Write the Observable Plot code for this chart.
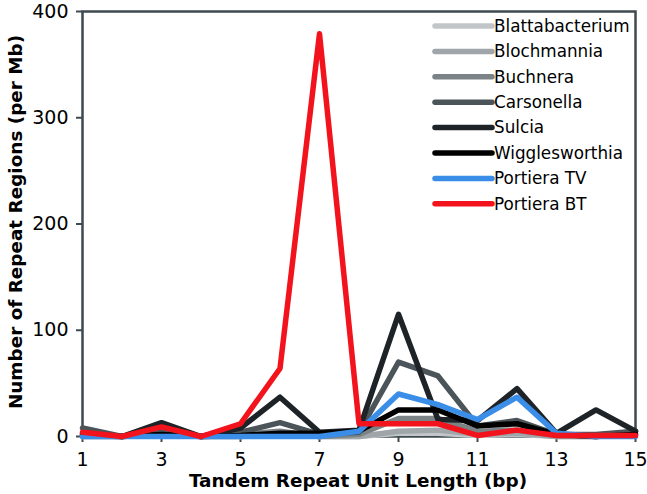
<!DOCTYPE html>
<html><head><meta charset="utf-8">
<script src="https://cdn.jsdelivr.net/npm/d3@7"></script>
<script src="https://cdn.jsdelivr.net/npm/@observablehq/plot@0.6"></script>
<style>body{margin:0;background:#fff}</style>
</head><body><div id="chart"></div>
<script>
const lengths = [1,2,3,4,5,6,7,8,9,10,11,12,13,14,15];
const seriesNames = ["Blattabacterium","Blochmannia","Buchnera","Carsonella","Sulcia","Wigglesworthia","Portiera TV","Portiera BT"];
const Blattabacterium = [0,0,2,0,0,2,0,0,3,3,1,2,0,0,3];
const Blochmannia     = [0,0,3,0,0,3,0,0,5,6,2,3,0,0,4];
const Buchnera        = [2,0,4,0,2,5,0,2,17,17,5,6,1,0,5];
const Carsonella      = [8,0,5,0,4,13,2,4,70,57,10,15,2,2,5];
const Sulcia          = [3,0,13,0,8,37,4,6,115,16,15,45,3,25,5];
const Wigglesworthia  = [1,0,2,0,1,3,3,5,25,25,10,12,2,0,2];
const PortieraTV      = [0,0,0,0,0,0,0,5,40,30,16,37,3,0,0];
const PortieraBT      = [4,0,9,0,12,64,379,12,12,12,1,6,1,1,1];
const colors = ["#c2c6c8","#9fa5a8","#7b8387","#4b5458","#1d2327","#000000","#3a8ee8","#f2131c"];
const xTicks = [1,3,5,7,9,11,13,15];
const yTicks = [0,100,200,300,400];

const valuesBySeries = [Blattabacterium,Blochmannia,Buchnera,Carsonella,Sulcia,Wigglesworthia,PortieraTV,PortieraBT];
const data = [];
seriesNames.forEach((s,i)=>valuesBySeries[i].forEach((v,j)=>data.push({series:s,len:lengths[j],value:v})));

const W=647,H=494,mL=82,mR=12,mT=11,mB=58;
const font = "'DejaVu Sans', sans-serif";
const frameColor = "#3e4a50";

const plot = Plot.plot({
  width:W,height:H,marginLeft:mL,marginRight:mR,marginTop:mT,marginBottom:mB,
  style:{fontFamily:font,fontSize:"19px",color:"#000",background:"#fff"},
  x:{domain:[1,15],label:null},
  y:{domain:[0,400],label:null},
  color:{domain:seriesNames,range:colors},
  marks:[
    Plot.axisX({ticks:xTicks,tickSize:6,tickPadding:10,stroke:frameColor,strokeWidth:2,fontSize:19,label:null}),
    Plot.axisY({ticks:yTicks,tickSize:6,tickPadding:8,stroke:frameColor,strokeWidth:2,fontSize:19,label:null}),
    Plot.frame({stroke:frameColor,strokeWidth:2.5}),
    Plot.line(data,{x:"len",y:"value",z:"series",stroke:"series",strokeWidth:5.5,strokeLinejoin:"round",strokeLinecap:"round"}),
  ]
});
document.getElementById("chart").appendChild(plot);

const svg = d3.select(plot);
// axis titles
svg.append("text").attr("x", 358).attr("y", H-7)
  .attr("text-anchor","middle").attr("font-family",font).attr("font-weight","bold").attr("font-size",18.4)
  .text("Tandem Repeat Unit Length (bp)");
svg.append("text").attr("transform",`translate(22,222) rotate(-90)`)
  .attr("text-anchor","middle").attr("font-family",font).attr("font-weight","bold").attr("font-size",18.4)
  .text("Number of Repeat Regions (per Mb)");
// legend
const lg = svg.append("g").attr("transform","translate(435,26)");
seriesNames.forEach((s,i)=>{
  const g = lg.append("g").attr("transform",`translate(0,${i*25.4})`);
  g.append("line").attr("x1",0).attr("x2",57).attr("y1",0).attr("y2",0)
    .attr("stroke",colors[i]).attr("stroke-width",5.5).attr("stroke-linecap","round");
  g.append("text").attr("x",59).attr("y",0).attr("dy","0.35em").attr("text-anchor","start")
    .attr("font-family",font).attr("font-size",16.8).text(s);
});
</script></body></html>
